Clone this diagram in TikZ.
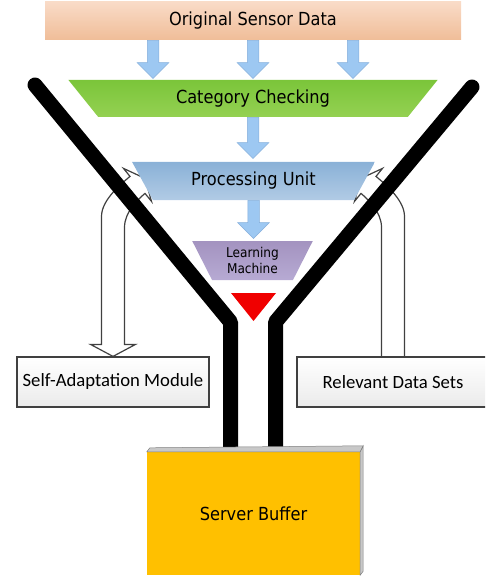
\documentclass[tikz,border=0pt]{standalone}
\usepackage{fontspec}
\setmainfont{DejaVu Sans Condensed}
\newfontfamily\calibri{Carlito}
\usepackage{tikz}
\usetikzlibrary{shapes.geometric,shapes.arrows,calc,backgrounds}
\definecolor{sensortop}{HTML}{F9DBC7}
\definecolor{sensorbot}{HTML}{F0BD98}
\definecolor{checktop}{HTML}{7BC53A}
\definecolor{checkbot}{HTML}{94D152}
\definecolor{proctop}{HTML}{8AB1D7}
\definecolor{procbot}{HTML}{B1CBE5}
\definecolor{learntop}{HTML}{A393C0}
\definecolor{learnbot}{HTML}{B7AAD3}
\definecolor{flowblue}{HTML}{9DC8F2}
\definecolor{flowedge}{HTML}{84AEDB}
\definecolor{alarmred}{HTML}{F00000}
\definecolor{outlinegray}{HTML}{404040}
\definecolor{bufferorange}{HTML}{FFC000}
\definecolor{bufferside}{HTML}{C8C8C8}

\tikzset{
  funnel/.style={line width=15pt,line cap=round,line join=bevel},
  stage/.style={trapezium,shape border rotate=180,trapezium stretches=true,
    inner sep=0pt,font=\fontsize{18}{20}\selectfont},
  bluearrow/.style={single arrow,rotate=-90,anchor=tail,fill=flowblue,
    draw=flowedge,line width=0.5pt,inner xsep=0pt,inner ysep=5.5pt,
    minimum width=0pt,single arrow head extend=10pt,minimum height=#1},
  sidebox/.style={rectangle,draw=outlinegray,line width=1.2pt,top color=white,
    bottom color=black!8,minimum width=192pt,minimum height=50pt,
    font=\calibri\fontsize{18.7}{20}\selectfont},
  hollow/.style={draw=outlinegray,line width=1.2pt,fill=white,line join=miter}
}

\begin{document}
\begin{tikzpicture}[x=1pt,y=-1pt]
  \useasboundingbox (0,0) rectangle (485,577);
  \clip (0,0) rectangle (485,577);

  % sources and funnel stages
  \node[rectangle,top color=sensortop,bottom color=sensorbot,minimum width=416pt,
    minimum height=38pt,font=\fontsize{18}{20}\selectfont] (sensor) at (253,21)
    {Original Sensor Data};
  \node[stage,top color=checktop,bottom color=checkbot,minimum width=370pt,
    minimum height=37pt,trapezium angle=49.6] (check) at (253,98.5)
    {Category Checking};
  \node[stage,top color=proctop,bottom color=procbot,minimum width=243pt,
    minimum height=38pt,trapezium angle=53.6] (proc) at (253.5,181)
    {Processing Unit};
  \node[stage,top color=learntop,bottom color=learnbot,minimum width=121pt,
    minimum height=39pt,trapezium angle=64,align=center,
    font=\fontsize{13.5}{16}\selectfont] (learn) at (252.5,260.5)
    {Learning\\Machine};
  \coordinate (tri) at (253.5,293);
  \fill[alarmred] ($(tri)+(-22.5,0)$) -- ($(tri)+(22.5,0)$) -- ($(tri)+(0,28)$) -- cycle;

  % flow arrows
  \foreach \dx in {-100,0,100}
    \node[bluearrow=38pt] at ($(sensor.south)+(\dx,0)$) {};
  \node[bluearrow=41pt] at (check.south) {};
  \node[bluearrow=38pt] at (proc.south) {};

  % feedback arrows
  \node[sidebox] (selfmod) at (113,382) {Self-Adaptation Module};
  \node[sidebox] (relset) at (393,382) {Relevant Data Sets};
  \begin{scope}[on background layer]
    \begin{scope}[shift={(selfmod.north)}]
      \draw[hollow] (0,0) -- (-22.5,-12) -- (-11.5,-12) -- (-11.5,-140)
        .. controls (-11.5,-157) and (9.4,-173.5) .. (17,-180)
        -- (10.5,-188) -- (32,-178) -- (38.5,-155) -- (32,-163)
        .. controls (26,-157.8) and (11.5,-145) .. (11.5,-129)
        -- (11.5,-12) -- (22.5,-12) -- cycle;
    \end{scope}
    \begin{scope}[shift={(relset.north)},xscale=-1]
      \draw[hollow] (-11.5,0) -- (-11.5,-140)
        .. controls (-11.5,-157) and (9.4,-173.5) .. (17,-180)
        -- (10.5,-188) -- (32,-178) -- (38.5,-155) -- (32,-163)
        .. controls (26,-157.8) and (11.5,-145) .. (11.5,-129)
        -- (11.5,0);
    \end{scope}
  \end{scope}

  % funnel walls
  \coordinate (ltop) at (35,85);
  \coordinate (lbend) at (230.5,322);
  \coordinate (lfoot) at (230.5,455);
  \coordinate (rtop) at (472,87);
  \coordinate (rbend) at (275.5,322);
  \coordinate (rfoot) at (275.5,455);
  \draw[funnel] (ltop) -- (lbend) -- (lfoot);
  \draw[funnel] (rtop) -- (rbend) -- (rfoot);

  % buffer
  \node[rectangle,fill=bufferorange,minimum width=213pt,minimum height=123pt,
    font=\fontsize{18}{20}\selectfont] (buffer) at (253.5,513.5) {Server Buffer};
  \filldraw[fill=bufferside,draw=black!50,line width=0.5pt] (buffer.north west)
    -- ++(3,-4) -- ($(buffer.north east)+(3,-6)$) -- (buffer.north east) -- cycle;
  \filldraw[fill=bufferside,draw=black!50,line width=0.5pt] (buffer.north east)
    -- ++(3,-6) -- ($(buffer.south east)+(3,-4)$) -- (buffer.south east) -- cycle;
\end{tikzpicture}
\end{document}
